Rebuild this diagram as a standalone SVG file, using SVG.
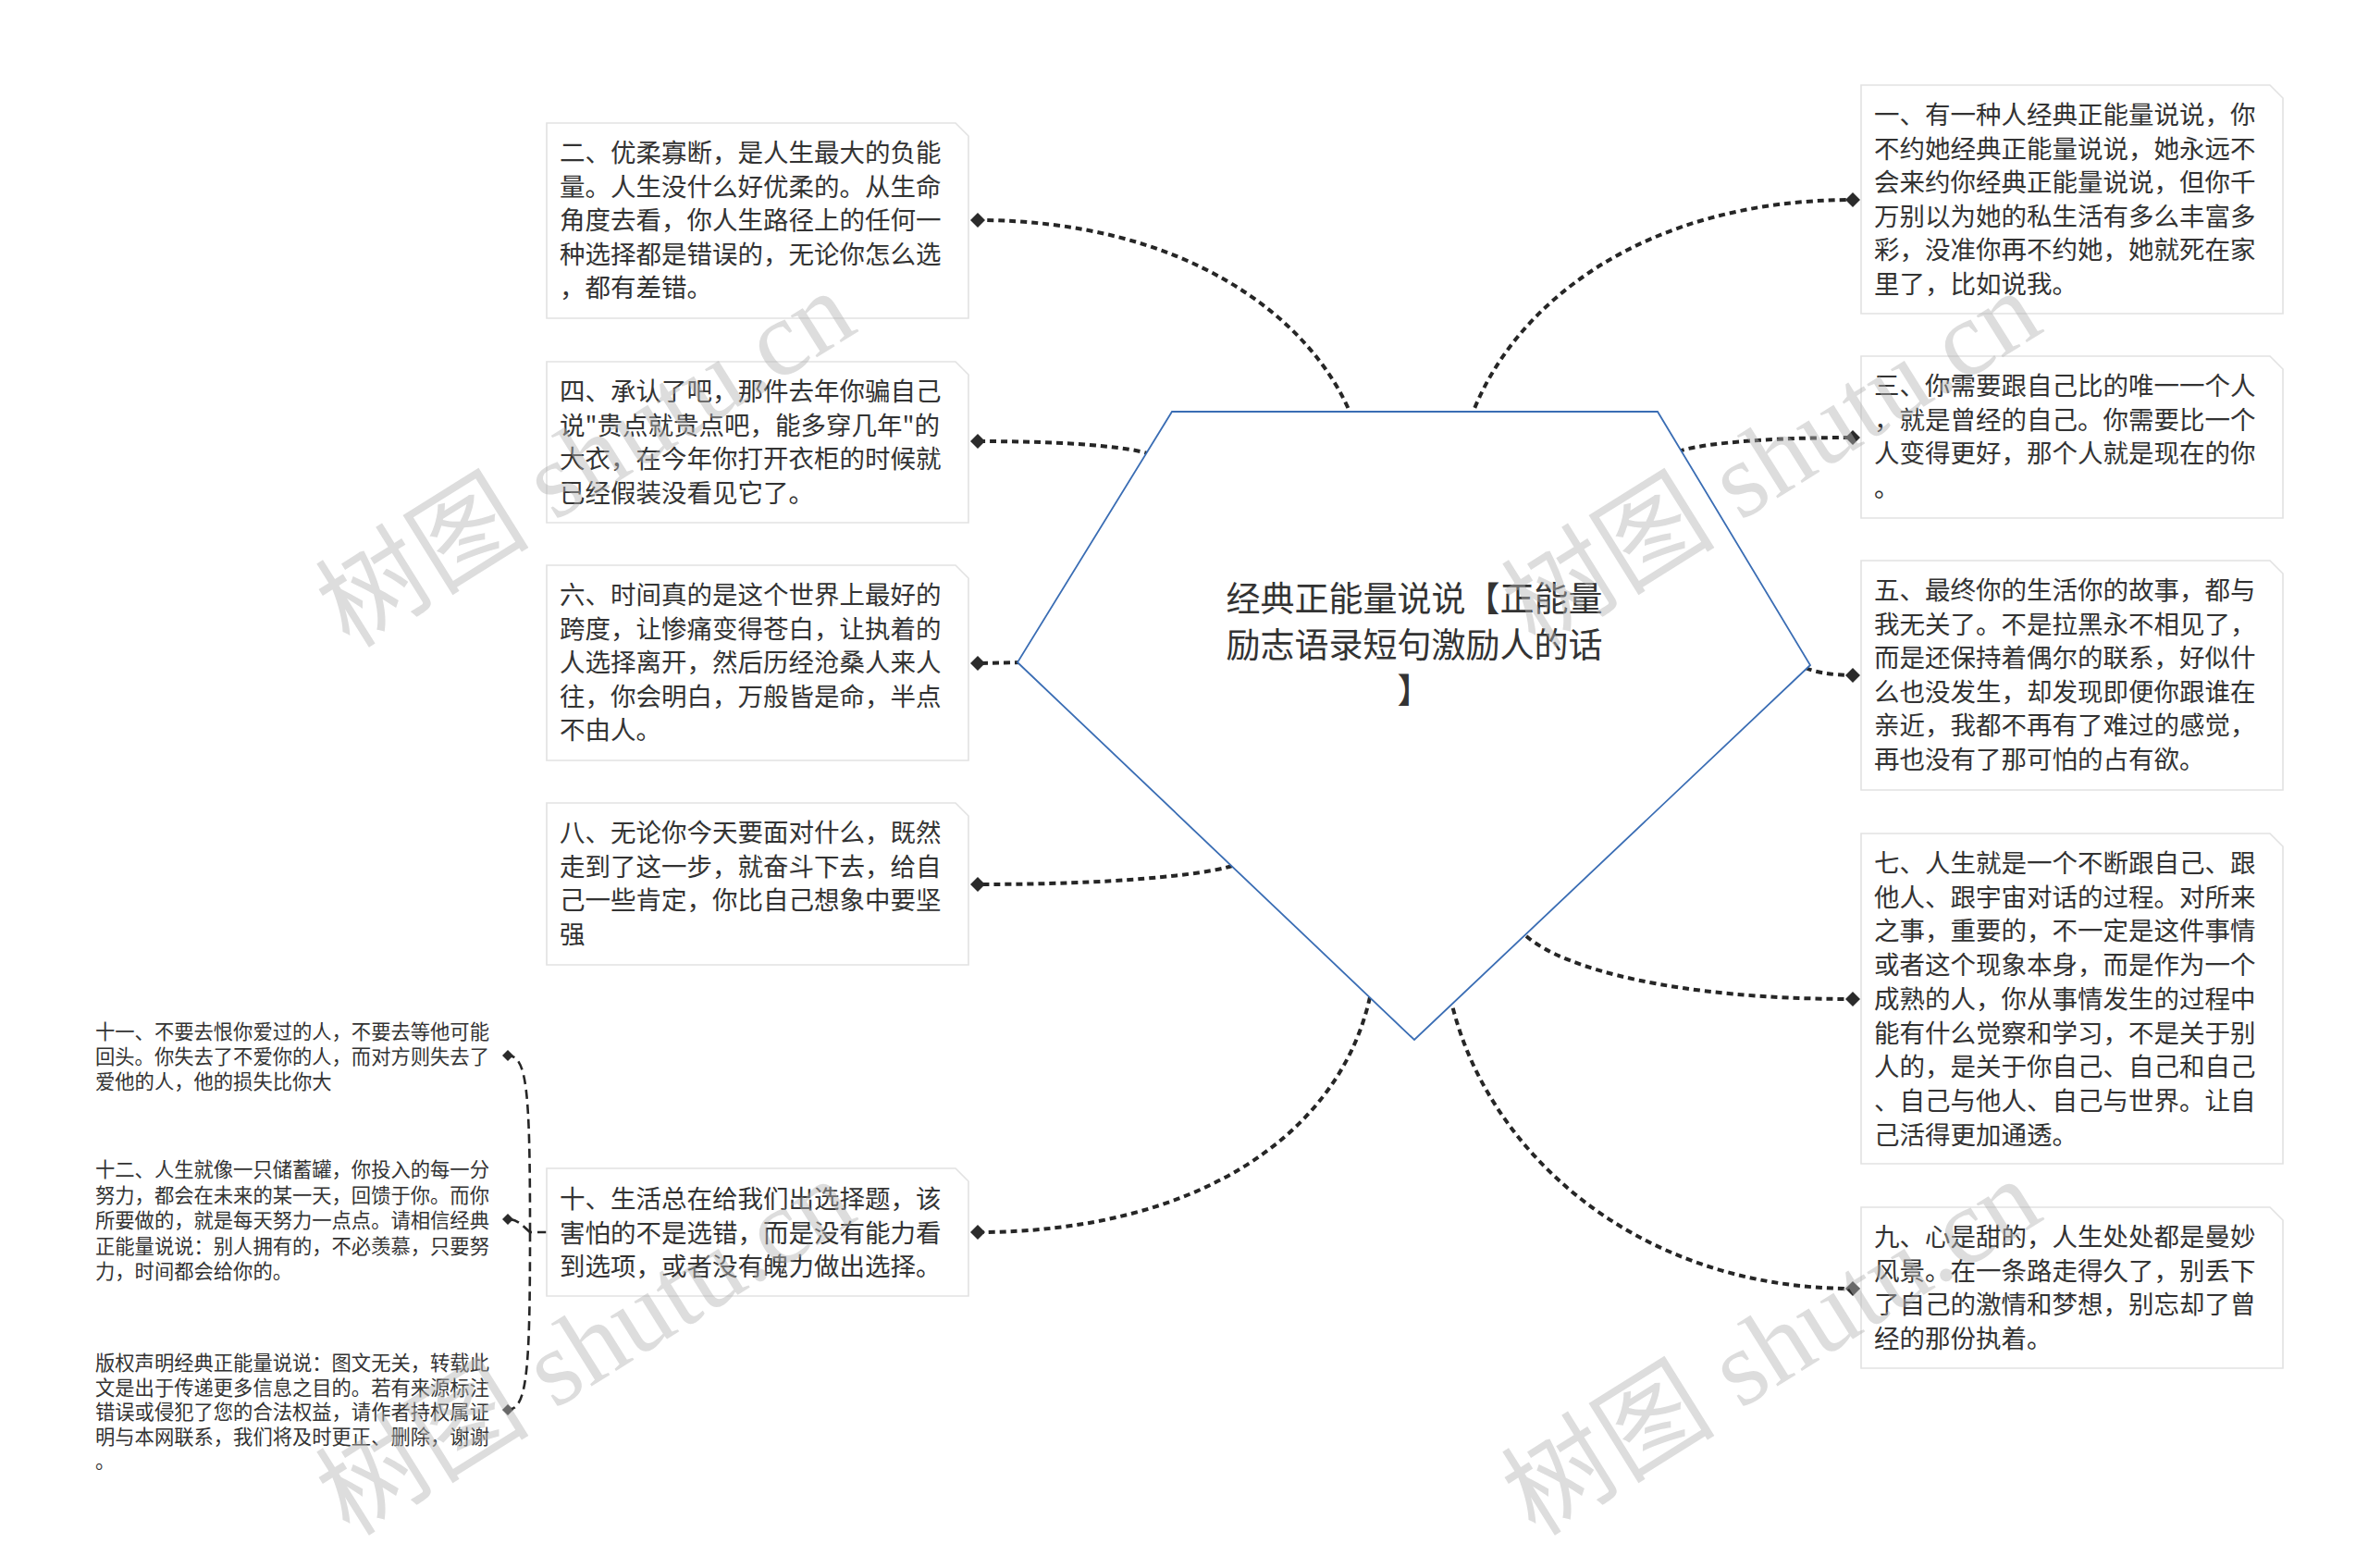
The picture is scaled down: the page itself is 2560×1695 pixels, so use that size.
<svg xmlns="http://www.w3.org/2000/svg" xmlns:xlink="http://www.w3.org/1999/xlink" width="2560" height="1695" viewBox="0 0 2560 1695">
<style>
.bx{fill:#fff;stroke:#e2e2e2;stroke-width:1.6}
.tx{font-family:"Noto Sans CJK SC","Microsoft YaHei",sans-serif;font-size:27.5px;fill:#333}
.sm{font-family:"Noto Sans CJK SC","Microsoft YaHei",sans-serif;font-size:21.3px;fill:#333}
.ct{font-family:"Noto Sans CJK SC","Microsoft YaHei",sans-serif;font-size:37px;fill:#333;text-anchor:middle}
.cn{fill:none;stroke:#262626;stroke-width:4;stroke-dasharray:7 5}
.cs{fill:none;stroke:#262626;stroke-width:2.6;stroke-dasharray:10 6}
.dm{fill:#2b2b2b}
.wm{font-family:"Liberation Serif","Noto Sans CJK SC",serif;font-size:116px;fill:#b4b4b4;opacity:0.45}
</style>
<defs>
<path id="dia" d="M0 -8 L8 0 L0 8 L-8 0Z"/>
<path id="dias" d="M0 -6 L6 0 L0 6 L-6 0Z"/>
</defs>
<rect width="2560" height="1695" fill="#fff"/>

<g id="connectors">
<path class="cn" d="M1462 452 C1418 341 1278 238 1057 238"/>
<path class="cn" d="M1590 452 C1635 328 1778 216 2003 216"/>
<path class="cn" d="M1244 491 C1220 483 1157 477 1057 477"/>
<path class="cn" d="M1814 488 C1838 480 1903 473 2003 473"/>
<path class="cn" d="M1104 716 L1057 717"/>
<path class="cn" d="M1952 722 C1960 726 1980 730 2003 730"/>
<path class="cn" d="M1332 936 C1299 946 1205 956 1057 956"/>
<path class="cn" d="M1650 1012 C1692 1048 1813 1080 2003 1080"/>
<path class="cn" d="M1481 1078 C1447 1230 1289 1332 1057 1332"/>
<path class="cn" d="M1568 1078 C1603 1240 1765 1393 2003 1393"/>
<path class="cs" d="M591 1332 L573 1332"/>
<path class="cs" d="M573 1332 C573 1180 570 1141 549 1141"/>
<path class="cs" d="M573 1332 C565 1325 560 1318 549 1318"/>
<path class="cs" d="M573 1332 C573 1480 570 1524 549 1524"/>
<g class="dm">
<use xlink:href="#dia" x="1057" y="238"/>
<use xlink:href="#dia" x="1057" y="477"/>
<use xlink:href="#dia" x="1057" y="717"/>
<use xlink:href="#dia" x="1057" y="956"/>
<use xlink:href="#dia" x="1057" y="1332"/>
<use xlink:href="#dia" x="2003" y="216"/>
<use xlink:href="#dia" x="2003" y="473"/>
<use xlink:href="#dia" x="2003" y="730"/>
<use xlink:href="#dia" x="2003" y="1080"/>
<use xlink:href="#dia" x="2003" y="1393"/>
<use xlink:href="#dias" x="549" y="1141"/>
<use xlink:href="#dias" x="549" y="1318"/>
<use xlink:href="#dias" x="549" y="1524"/>
</g>
</g>

<g id="node-center">
<polygon points="1267,445 1792,445 1957,719 1529,1124 1100,716" fill="#fff" stroke="#3a6db4" stroke-width="1.8"/>
<text class="ct"><tspan x="1529" y="661">经典正能量说说【正能量</tspan><tspan x="1529" y="711">励志语录短句激励人的话</tspan><tspan x="1529" y="760">】</tspan></text>
</g>

<g id="node-2">
<path class="bx" d="M591 133 H1033 L1047 147 V344 H591 Z"/>
<text class="tx"><tspan x="605" y="175">二、优柔寡断，是人生最大的负能</tspan><tspan x="605" y="211.6">量。人生没什么好优柔的。从生命</tspan><tspan x="605" y="248.2">角度去看，你人生路径上的任何一</tspan><tspan x="605" y="284.8">种选择都是错误的，无论你怎么选</tspan><tspan x="605" y="321.4">，都有差错。</tspan></text>
</g>

<g id="node-4">
<path class="bx" d="M591 391 H1033 L1047 405 V565 H591 Z"/>
<text class="tx"><tspan x="605" y="433">四、承认了吧，那件去年你骗自己</tspan><tspan x="605" y="469.6">说"贵点就贵点吧，能多穿几年"的</tspan><tspan x="605" y="506.2">大衣，在今年你打开衣柜的时候就</tspan><tspan x="605" y="542.8">已经假装没看见它了。</tspan></text>
</g>

<g id="node-6">
<path class="bx" d="M591 611 H1033 L1047 625 V822 H591 Z"/>
<text class="tx"><tspan x="605" y="653">六、时间真的是这个世界上最好的</tspan><tspan x="605" y="689.6">跨度，让惨痛变得苍白，让执着的</tspan><tspan x="605" y="726.2">人选择离开，然后历经沧桑人来人</tspan><tspan x="605" y="762.8">往，你会明白，万般皆是命，半点</tspan><tspan x="605" y="799.4">不由人。</tspan></text>
</g>

<g id="node-8">
<path class="bx" d="M591 868 H1033 L1047 882 V1043 H591 Z"/>
<text class="tx"><tspan x="605" y="910">八、无论你今天要面对什么，既然</tspan><tspan x="605" y="946.6">走到了这一步，就奋斗下去，给自</tspan><tspan x="605" y="983.2">己一些肯定，你比自己想象中要坚</tspan><tspan x="605" y="1019.8">强</tspan></text>
</g>

<g id="node-10">
<path class="bx" d="M591 1263 H1033 L1047 1277 V1401 H591 Z"/>
<text class="tx"><tspan x="605" y="1306">十、生活总在给我们出选择题，该</tspan><tspan x="605" y="1342.6">害怕的不是选错，而是没有能力看</tspan><tspan x="605" y="1379.2">到选项，或者没有魄力做出选择。</tspan></text>
</g>

<g id="node-1">
<path class="bx" d="M2012 92 H2454 L2468 106 V339 H2012 Z"/>
<text class="tx"><tspan x="2026" y="134">一、有一种人经典正能量说说，你</tspan><tspan x="2026" y="170.6">不约她经典正能量说说，她永远不</tspan><tspan x="2026" y="207.2">会来约你经典正能量说说，但你千</tspan><tspan x="2026" y="243.8">万别以为她的私生活有多么丰富多</tspan><tspan x="2026" y="280.4">彩，没准你再不约她，她就死在家</tspan><tspan x="2026" y="317">里了，比如说我。</tspan></text>
</g>

<g id="node-3">
<path class="bx" d="M2012 385 H2454 L2468 399 V560 H2012 Z"/>
<text class="tx"><tspan x="2026" y="427">三、你需要跟自己比的唯一一个人</tspan><tspan x="2026" y="463.6">，就是曾经的自己。你需要比一个</tspan><tspan x="2026" y="500.2">人变得更好，那个人就是现在的你</tspan><tspan x="2026" y="536.8">。</tspan></text>
</g>

<g id="node-5">
<path class="bx" d="M2012 606 H2454 L2468 620 V854 H2012 Z"/>
<text class="tx"><tspan x="2026" y="648">五、最终你的生活你的故事，都与</tspan><tspan x="2026" y="684.6">我无关了。不是拉黑永不相见了，</tspan><tspan x="2026" y="721.2">而是还保持着偶尔的联系，好似什</tspan><tspan x="2026" y="757.8">么也没发生，却发现即便你跟谁在</tspan><tspan x="2026" y="794.4">亲近，我都不再有了难过的感觉，</tspan><tspan x="2026" y="831">再也没有了那可怕的占有欲。</tspan></text>
</g>

<g id="node-7">
<path class="bx" d="M2012 901 H2454 L2468 915 V1258 H2012 Z"/>
<text class="tx"><tspan x="2026" y="943">七、人生就是一个不断跟自己、跟</tspan><tspan x="2026" y="979.7">他人、跟宇宙对话的过程。对所来</tspan><tspan x="2026" y="1016.4">之事，重要的，不一定是这件事情</tspan><tspan x="2026" y="1053.1">或者这个现象本身，而是作为一个</tspan><tspan x="2026" y="1089.8">成熟的人，你从事情发生的过程中</tspan><tspan x="2026" y="1126.5">能有什么觉察和学习，不是关于别</tspan><tspan x="2026" y="1163.2">人的，是关于你自己、自己和自己</tspan><tspan x="2026" y="1199.9">、自己与他人、自己与世界。让自</tspan><tspan x="2026" y="1236.6">己活得更加通透。</tspan></text>
</g>

<g id="node-9">
<path class="bx" d="M2012 1305 H2454 L2468 1319 V1479 H2012 Z"/>
<text class="tx"><tspan x="2026" y="1347">九、心是甜的，人生处处都是曼妙</tspan><tspan x="2026" y="1383.6">风景。在一条路走得久了，别丢下</tspan><tspan x="2026" y="1420.2">了自己的激情和梦想，别忘却了曾</tspan><tspan x="2026" y="1456.8">经的那份执着。</tspan></text>
</g>

<g id="node-11">
<text class="sm"><tspan x="103" y="1123">十一、不要去恨你爱过的人，不要去等他可能</tspan><tspan x="103" y="1150">回头。你失去了不爱你的人，而对方则失去了</tspan><tspan x="103" y="1177">爱他的人，他的损失比你大</tspan></text>
</g>

<g id="node-12">
<text class="sm"><tspan x="103" y="1272">十二、人生就像一只储蓄罐，你投入的每一分</tspan><tspan x="103" y="1299.5">努力，都会在未来的某一天，回馈于你。而你</tspan><tspan x="103" y="1327">所要做的，就是每天努力一点点。请相信经典</tspan><tspan x="103" y="1354.5">正能量说说：别人拥有的，不必羡慕，只要努</tspan><tspan x="103" y="1382">力，时间都会给你的。</tspan></text>
</g>

<g id="node-copyright">
<text class="sm"><tspan x="103" y="1481">版权声明经典正能量说说：图文无关，转载此</tspan><tspan x="103" y="1507.5">文是出于传递更多信息之目的。若有来源标注</tspan><tspan x="103" y="1534">错误或侵犯了您的合法权益，请作者持权属证</tspan><tspan x="103" y="1560.5">明与本网联系，我们将及时更正、删除，谢谢</tspan><tspan x="103" y="1587">。</tspan></text>
</g>

<g id="watermarks">
<text class="wm" transform="translate(378,702) rotate(-32)">树图 shutu.cn</text>
<text class="wm" transform="translate(1660,702) rotate(-32)">树图 shutu.cn</text>
<text class="wm" transform="translate(378,1662) rotate(-32)">树图 shutu.cn</text>
<text class="wm" transform="translate(1660,1662) rotate(-32)">树图 shutu.cn</text>
</g>
</svg>
